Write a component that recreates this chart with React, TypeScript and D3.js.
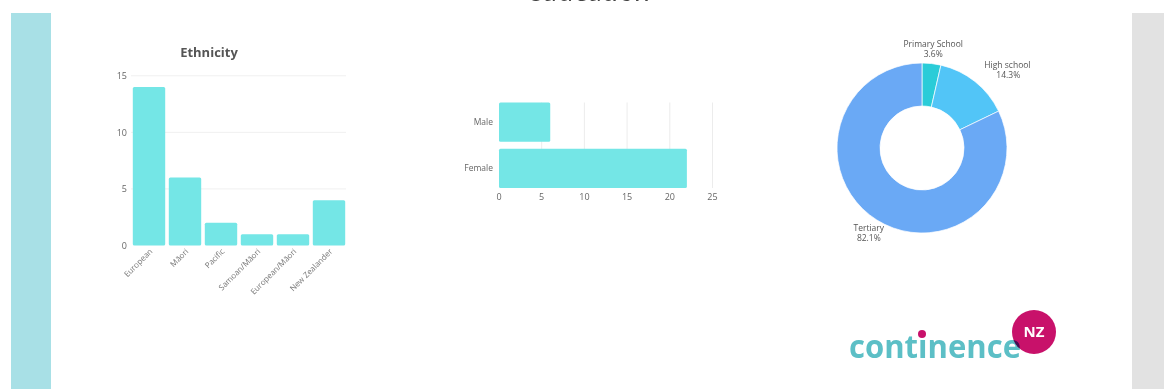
import React from "react";
import * as d3 from "d3";

const ethnicCategories = ["European", "Māori", "Pacific", "Samoan/Māori", "European/Māori", "New Zealander"];
const ethnicValues = [14, 6, 2, 1, 1, 4];
const ethnicTicks = [0, 5, 10, 15];

const genderCategories = ["Male", "Female"];
const genderValues = [6, 22];
const genderTicks = [0, 5, 10, 15, 20, 25];

const eduCategories = ["Primary School", "High school", "Tertiary"];
const eduValues = [1, 4, 23];
const eduColors = ["#2accd8", "#52c5f7", "#6aa9f5"];

const BAR = "#74e6e6";
const FONT = "'Open Sans', 'Noto Sans', sans-serif";

export default function App() {
  // Ethnicity chart
  const ex = d3.scaleBand<string>().domain(ethnicCategories).range([131, 347]).paddingInner(0.1).paddingOuter(0.05);
  const ey = d3.scaleLinear().domain([0, 15]).range([245.5, 75.8]);

  // Gender chart
  const gx = d3.scaleLinear().domain([0, 25]).range([499, 712.5]);
  const gy = d3.scaleBand<string>().domain(genderCategories).range([102.5, 188]).paddingInner(0.15);

  // Education donut
  const cx = 922, cy = 148, rO = 85, rI = 42;
  const pie = d3.pie<number>().sort(null).value((d) => d);
  const arcs = pie(eduValues);
  const arcGen = d3.arc<d3.PieArcDatum<number>>().innerRadius(rI).outerRadius(rO);
  const labelArc = d3.arc<d3.PieArcDatum<number>>().innerRadius(100).outerRadius(100);
  const total = d3.sum(eduValues);

  return (
    <svg width={1164} height={389} style={{ position: "absolute", left: 0, top: 0, background: "#fff" }} fontFamily={FONT}>
      {/* slide decor */}
      <rect x={11} y={13} width={40} height={376} fill="#a8e0e6" />
      <rect x={1132} y={13} width={32} height={376} fill="#e2e2e2" />
      <text x={590} y={1} textAnchor="middle" fontSize={28} fontStyle="italic" fill="#444">education</text>

      {/* Ethnicity */}
      <text x={209} y={57} textAnchor="middle" fontSize={13} fontWeight="bold" fill="#555">Ethnicity</text>
      {ethnicTicks.map((t) => (
        <g key={t}>
          {t > 0 && <line x1={131} x2={346} y1={ey(t)} y2={ey(t)} stroke="#f0f0f0" strokeWidth={1} />}
          <text x={127} y={ey(t)} dy="0.35em" textAnchor="end" fontSize={9} fill="#666">{t}</text>
        </g>
      ))}
      {ethnicCategories.map((c, i) => (
        <rect key={c} x={ex(c)} y={ey(ethnicValues[i])} width={ex.bandwidth()} height={ey(0) - ey(ethnicValues[i])} rx={1.5} fill={BAR} />
      ))}
      {ethnicCategories.map((c) => {
        const x = (ex(c) as number) + ex.bandwidth() / 2 + 4;
        return (
          <text key={c} transform={`translate(${x},${252}) rotate(-45)`} textAnchor="end" fontSize={8} fill="#777">{c}</text>
        );
      })}

      {/* Gender */}
      {genderTicks.map((t) => (
        <g key={t}>
          {t > 0 && <line x1={gx(t)} x2={gx(t)} y1={102.5} y2={188} stroke="#ececec" strokeWidth={1} />}
          <text x={gx(t)} y={197} dy="0.35em" textAnchor="middle" fontSize={9} fill="#666">{t}</text>
        </g>
      ))}
      {genderCategories.map((c, i) => (
        <g key={c}>
          <rect x={gx(0)} y={gy(c)} width={gx(genderValues[i]) - gx(0)} height={gy.bandwidth()} rx={1.5} fill={BAR} />
          <text x={493} y={(gy(c) as number) + gy.bandwidth() / 2} dy="0.35em" textAnchor="end" fontSize={8.5} fill="#666">{c}</text>
        </g>
      ))}

      {/* Education donut */}
      <g transform={`translate(${cx},${cy})`}>
        {arcs.map((a, i) => (
          <path key={i} d={arcGen(a) as string} fill={eduColors[i]} stroke="#fff" strokeWidth={0.7} />
        ))}
        {arcs.map((a, i) => {
          const [lx, ly] = labelArc.centroid(a);
          const mid = (a.startAngle + a.endAngle) / 2;
          const s = Math.sin(mid);
          const anchor = Math.abs(s) > 0.6 ? (s > 0 ? "start" : "end") : "middle";
          const pct = ((eduValues[i] / total) * 100).toFixed(1) + "%";
          return (
            <text key={i} x={lx} y={ly} textAnchor={anchor} fontSize={8.5} fill="#555">
              <tspan x={lx} dy="-0.2em">{eduCategories[i]}</tspan>
              <tspan x={anchor === "start" ? lx + 12 : lx} dy="1.15em">{pct}</tspan>
            </text>
          );
        })}
      </g>

      {/* Logo */}
      <text x={849} y={358} fontSize={33} fontWeight="bold" fill="#5cbfc6" textLength={172} lengthAdjust="spacingAndGlyphs">
        contınence
      </text>
      <circle cx={922} cy={334} r={4} fill="#c8116a" />
      <circle cx={1034} cy={332} r={22} fill="#c8116a" style={{ mixBlendMode: "multiply" }} />
      <text x={1034} y={332} dy="0.36em" textAnchor="middle" fontSize={15} fontWeight="bold" fill="#fff">NZ</text>
    </svg>
  );
}
